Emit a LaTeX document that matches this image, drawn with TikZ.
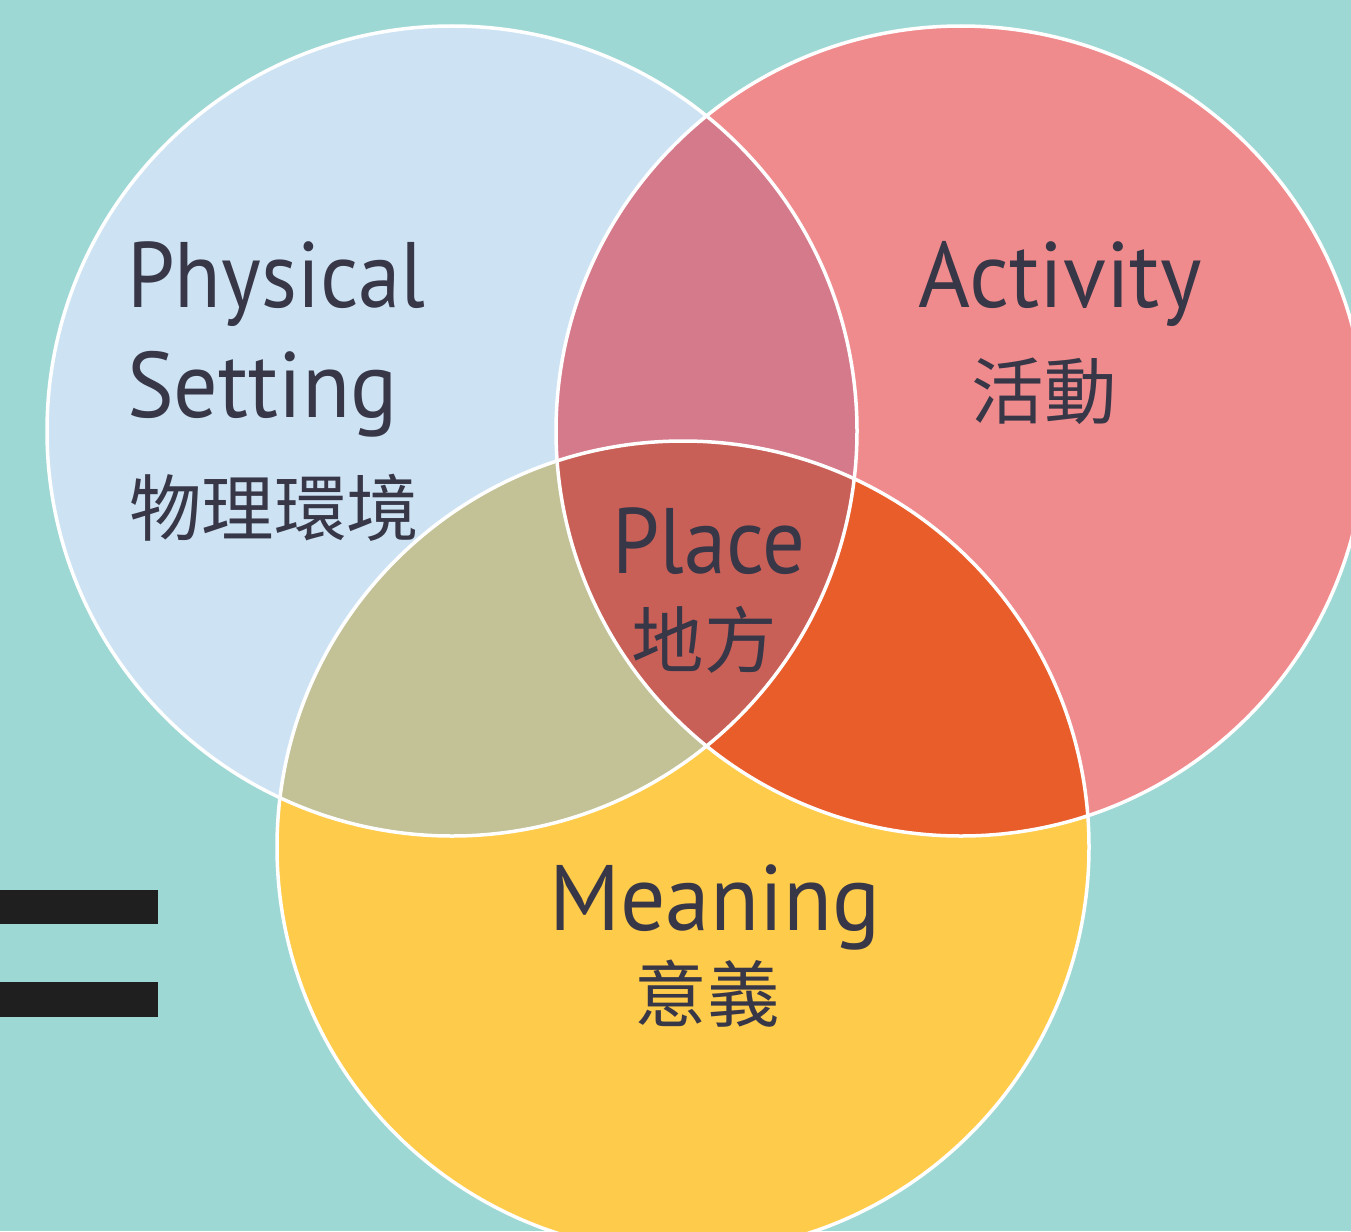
\documentclass[tikz,border=0pt]{standalone}
\usepackage{graphicx}
\usepackage{fontspec}
\setmainfont{PT Sans}
\newfontfamily\cjk{Noto Sans CJK TC}
\newcommand\squeeze[2]{\scalebox{#1}[1]{#2}}
\definecolor{bgteal}{RGB}{158,216,212}
\definecolor{cblue}{RGB}{205,227,244}
\definecolor{cpink}{RGB}{240,139,141}
\definecolor{cyellow}{RGB}{254,203,75}
\definecolor{bluepink}{RGB}{213,122,138}
\definecolor{blueyellow}{RGB}{195,193,150}
\definecolor{pinkyellow}{RGB}{233,93,43}
\definecolor{allthree}{RGB}{201,96,88}
\definecolor{txt}{RGB}{56,55,72}
\definecolor{bar}{RGB}{31,31,31}
\tikzset{
  lat/.style={inner sep=0pt, text=txt, font=\fontsize{93}{100}\selectfont, anchor=base west},
  han/.style={inner sep=0pt, text=txt, font=\cjk\fontsize{72.5}{80}\selectfont, anchor=center},
  rim/.style={draw=white, line width=3.5pt}
}
\begin{document}
\begin{tikzpicture}[x=1pt,y=-1pt]
\useasboundingbox (0,0) rectangle (1351,1231);
\clip (0,0) rectangle (1351,1231);
\fill[bgteal] (0,0) rectangle (1351,1231);
\def\circA{(452,431) circle[radius=405]}
\def\circB{(961,431) circle[radius=405]}
\def\circC{(683,847) circle[radius=406]}
\fill[cblue] \circA;
\fill[cpink] \circB;
\fill[cyellow] \circC;
\begin{scope}
  \clip \circA;
  \fill[bluepink] \circB;
  \fill[blueyellow] \circC;
\end{scope}
\begin{scope}
  \clip \circB;
  \fill[pinkyellow] \circC;
\end{scope}
\begin{scope}
  \clip \circA;
  \clip \circB;
  \fill[allthree] \circC;
\end{scope}
\draw[rim] \circA;
\draw[rim] \circB;
\draw[rim] \circC;
% equals sign
\fill[bar] (0,890) rectangle (158,924);
\fill[bar] (0,982) rectangle (158,1017);
% labels
\node[lat] (phys) at (127,307) {\squeeze{0.917}{Physical}};
\node[lat] (sett) at (127,417) {\squeeze{0.947}{Setting}};
\node[han] (physzh) at (274,508) {物理環境};
\node[lat] (act) at (918,307) {\squeeze{0.956}{Activity}};
\node[han] (actzh) at (1044,391) {活動};
\node[lat] (place) at (612,573) {\squeeze{0.91}{Place}};
\node[han] (placezh) at (704,640) {地方};
\node[lat] (mean) at (549,930) {\squeeze{0.964}{Meaning}};
\node[han] (meanzh) at (707,994) {意義};
\end{tikzpicture}
\end{document}
